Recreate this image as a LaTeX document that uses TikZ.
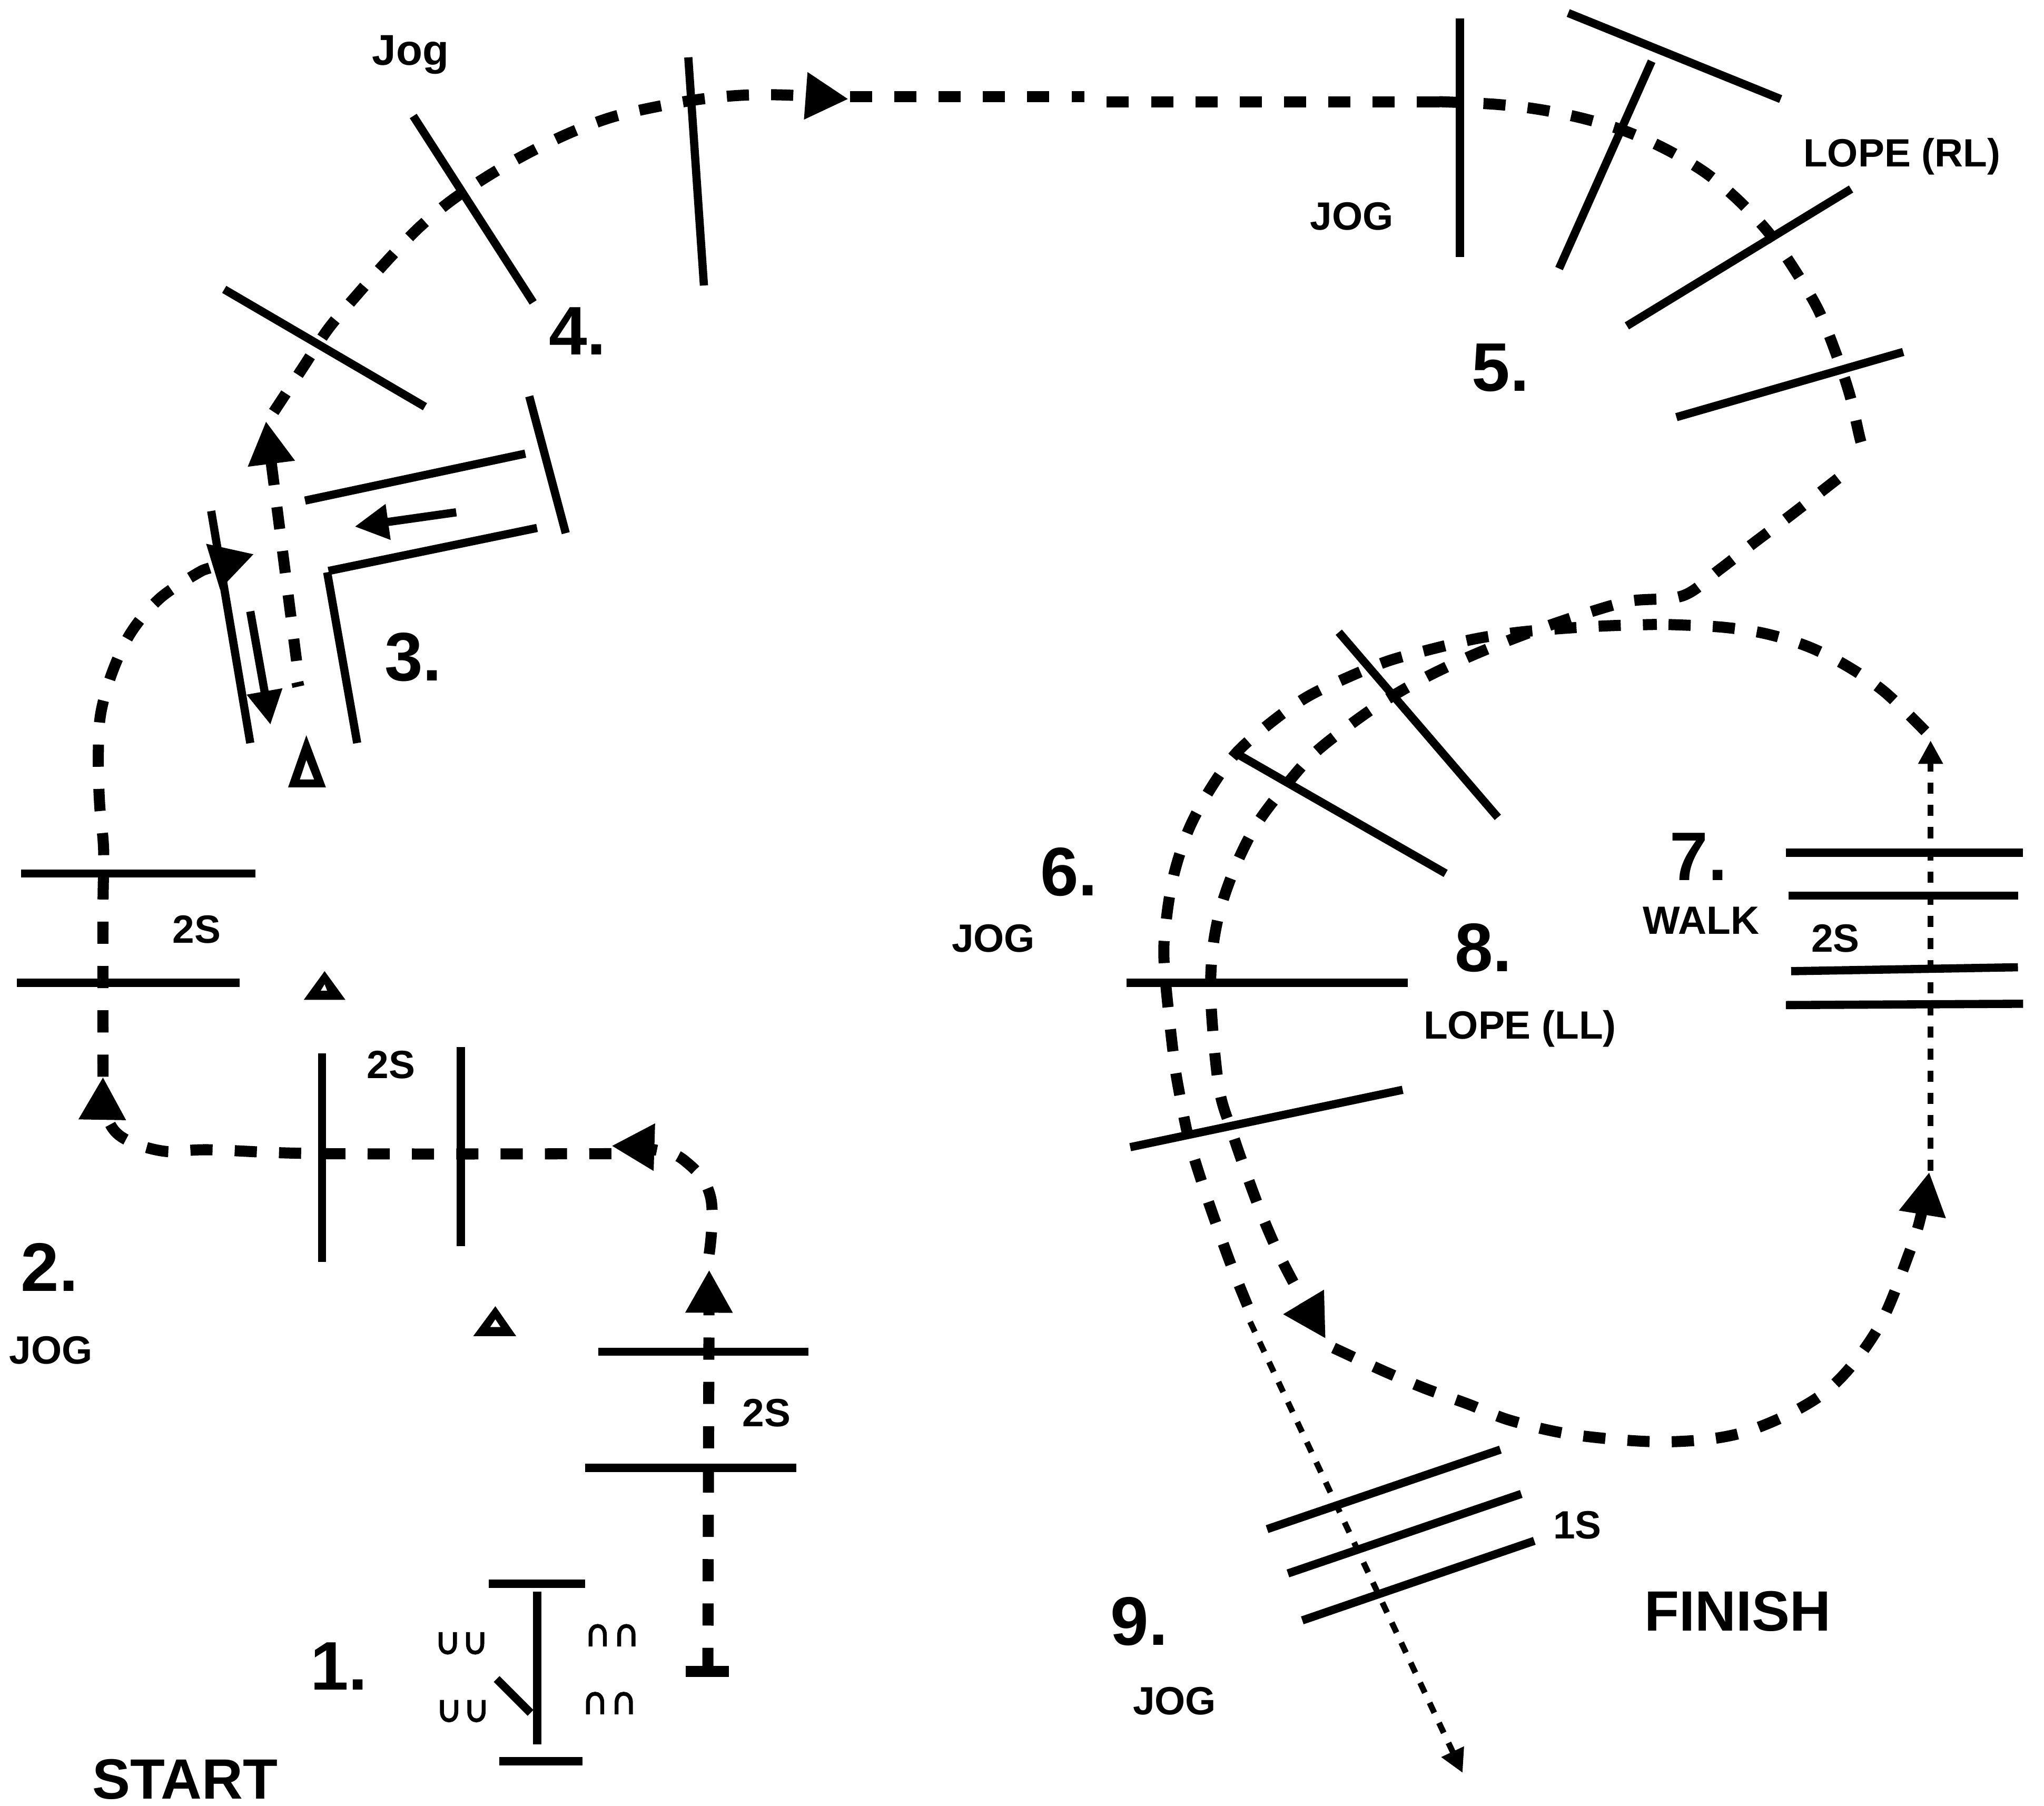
\documentclass[tikz,border=0pt]{standalone}
\usepackage{fontspec}
\setmainfont{Liberation Sans}
\usetikzlibrary{arrows.meta}

\begin{document}
\begin{tikzpicture}[
                x=0.1mm, y=-0.1mm,
                pole/.style={line width=0.63mm},
                route/.style={line width=0.85mm, dash pattern=on 1.7mm off 1.7mm},
                walkline/.style={line width=0.45mm, dash pattern=on 0.85mm off 0.85mm},
                shoe/.style={line width=0.3mm},
                cone/.style={fill=black, even odd rule},
                bigtip/.style={-{Triangle[length=3.3mm, width=3.4mm]}},
                midtip/.style={-{Triangle[length=2.6mm, width=2.6mm]}},
                smalltip/.style={-{Triangle[length=1.8mm, width=1.8mm]}},
                num/.style={inner sep=0pt, font=\fontsize{15pt}{17pt}\selectfont\bfseries},
                tag/.style={inner sep=0pt, font=\fontsize{8.6pt}{10pt}\selectfont\bfseries},
                title/.style={inner sep=0pt, font=\fontsize{12.4pt}{14pt}\selectfont\bfseries}
            ]
                \useasboundingbox (0,0) rectangle (1568,1385);

                % 1 start box
                \draw[pole] (375,1215) -- (449,1215);
                \draw[pole] (383,1351) -- (447,1351);
                \draw[pole] (412,1221) -- (412,1338);
                \draw[pole] (381,1288) -- (407,1314);
                \foreach \x/\y in {338/1252, 359/1252, 339/1304, 360/1304}
                    \draw[shoe] (\x,\y) -- ++(0,9) .. controls +(0,9) and +(0,9) .. ++(11,0) -- ++(0,-9);
                \foreach \x/\y in {453/1263, 475/1263, 451/1315, 473/1315}
                    \draw[shoe] (\x,\y) -- ++(0,-9) .. controls +(0,-9) and +(0,-9) .. ++(11,0) -- ++(0,9);
                \draw[line width=0.85mm] (526,1282) -- (559,1282);

                % poles of the pattern
                \draw[pole] (459,1037) -- (620,1037);
                \draw[pole] (449,1126) -- (611,1126);
                \draw[pole] (247,808) -- (247,968);
                \draw[pole] (353.5,803) -- (353.5,956);
                \draw[pole] (16,670) -- (196,670);
                \draw[pole] (13,754) -- (184,754);
                \draw[pole] (162,392) -- (192,570);
                \draw[pole] (251,439) -- (274,570);
                \draw[pole] (234,384) -- (403,348);
                \draw[pole] (252,438) -- (412,405);
                \draw[pole] (406,304) -- (434,409);
                \draw[pole] (172,222) -- (326,312);
                \draw[pole] (317,89) -- (409,232);
                \draw[pole] (528,44) -- (540,219);
                \draw[pole] (1120,14) -- (1120,197);
                \draw[pole] (1203,10) -- (1366,76);
                \draw[pole] (1267,47) -- (1196,206);
                \draw[pole] (1420,145) -- (1248,250);
                \draw[pole] (1460,270) -- (1286,320);
                \draw[pole] (1027,485) -- (1149,627);
                \draw[pole] (945,576) -- (1109,670);
                \draw[pole] (864,754) -- (1080,754);
                \draw[pole] (867,880) -- (1076,836);
                \draw[pole] (1370,654) -- (1552,654);
                \draw[pole] (1372,687) -- (1548,687);
                \draw[pole] (1374,745) -- (1548,742);
                \draw[pole] (1370,771) -- (1552,770);
                \draw[pole] (972,1173) -- (1151,1112);
                \draw[pole] (988,1207) -- (1167,1146);
                \draw[pole] (999,1243) -- (1177,1182);

                % cones
                \fill[cone] (235,564) -- (221,604) -- (250,604) -- cycle (235,583) -- (230,598) -- (241,598) -- cycle;
                \fill[cone] (249,745) -- (233,767) -- (265,767) -- cycle (249,755) -- (246,760) -- (251,760) -- cycle;
                \fill[cone] (380,1002) -- (363,1025) -- (396,1025) -- cycle (380,1012) -- (376,1018) -- (384,1018) -- cycle;

                % route ends
                \coordinate (gate) at (543,1281);
                \coordinate (turnA) at (544,974);
                \coordinate (turnB) at (544,962);
                \coordinate (turnC) at (469,879);
                \coordinate (turnD) at (469,885);
                \coordinate (turnE) at (79,826);
                \coordinate (turnF) at (79,826);
                \coordinate (turnG) at (195,425);
                \coordinate (backS) at (227.5,507);
                \coordinate (backE) at (204,323);
                \coordinate (arcS) at (210,316);
                \coordinate (arcE) at (651,76);
                \coordinate (topS) at (652,74);
                \coordinate (topE) at (832,74);
                \coordinate (midS) at (849,78);
                \coordinate (midE) at (1104,78);
                \coordinate (curveS) at (1104,78);
                \coordinate (curveE) at (1430,345);
                \coordinate (sweepS) at (1410,367);
                \coordinate (sweepE) at (1017,1027);
                \coordinate (walkS) at (1481,898);
                \coordinate (walkE) at (1481,568);
                \coordinate (capS) at (1477,561);
                \coordinate (capE) at (1277,479);
                \coordinate (leftS) at (1271,479);
                \coordinate (leftE) at (958,1004);
                \coordinate (outS) at (959,1014);
                \coordinate (outE) at (1122,1360);
                \coordinate (loopS) at (1023,1034);
                \coordinate (loopE) at (1480,899);

                \draw[route, bigtip] (gate) -- (turnA);
                \draw[route, bigtip] plot[smooth, tension=0.7] coordinates {(turnB) (545,918) (526,891) (502,882) (turnC)};
                \draw[route, -, bigtip] plot[smooth, tension=0.6] coordinates {(turnD) (250,885) (161,882) (125,883) (93,872) (81,853) (turnE)};
                \draw[route, bigtip] plot[smooth, tension=0.55] coordinates {(turnF) (79,700) (79.5,652) (76.5,618) (75.4,584) (77,549) (86,516) (100.6,485) (122.6,459) (151,440) (163,435) (turnG)};
                \draw[route, bigtip] (backS) -- (backE);
                \draw[line width=0.35mm] (224,526) -- (233,524);
                \draw[route, bigtip] plot[smooth, tension=0.55] coordinates {(arcS) (233,281) (252,252) (274,226) (297,200) (321,175) (346,154) (376,134) (406,117) (437,102) (469,90) (503,82) (538,76) (571,73) (605,73) (arcE)};
                \draw[route] (topS) -- (topE);
                \draw[route] (midS) -- (midE);
                \draw[route] plot[smooth, tension=0.55] coordinates {(curveS) (1147,80) (1181,84) (1215,91) (1248,101) (1279,115) (1309,133) (1335,155) (1358,180) (1378,209) (1395,238) (1408,270) (1419,303) (1427,337) (curveE)};
                \draw[route, bigtip] plot[smooth, tension=0.55] coordinates {(sweepS) (1374,395) (1346,416) (1319,437) (1291,457) (1251,461) (1218,470) (1185,481) (1153,493) (1122,506) (1091,521) (1060,539) (1033,558) (1006,580) (982,608) (963,634) (948,664) (936,698) (930,731) (929,770) (935,834) (945,868) (956,900) (968,932) (982,964) (1000,998) (sweepE)};
                \draw[route] plot[smooth, tension=0.55] coordinates {(capS) (1446,531) (1417,511) (1387,496) (1354,486) (1320,481) (capE)};
                \draw[route, dash phase=0.63mm] plot[smooth, tension=0.55] coordinates {(leftS) (1235,480) (1200,482) (1165,485) (1132,490) (1098,498) (1065,507) (1033,520) (1002,535) (974,555) (948,578) (928,606) (912,636) (901,669) (895,703) (893,738) (900,808) (905,840) (912,874) (922,907) (933,939) (945,972) (leftE)};
                \draw[route, bigtip] plot[smooth, tension=0.55] coordinates {(loopS) (1062,1052) (1093,1065) (1126,1077) (1160,1090) (1210,1101) (1280,1106) (1340,1098) (1400,1068) (1440,1020) (1465,960) (1474,931) (loopE)};
                \draw[walkline, smalltip] (walkS) -- (walkE);
                \draw[walkline, smalltip] (outS) -- (outE);

                % small lane arrows
                \coordinate (laneAS) at (350,393);
                \coordinate (laneAE) at (272,404);
                \coordinate (laneBS) at (192,469);
                \coordinate (laneBE) at (207.5,556);
                \draw[pole, midtip] (laneAS) -- (laneAE);
                \draw[pole, midtip] (laneBS) -- (laneBE);

                % texts
                \node[num] (n1) at (260,1278) {1.};
                \node[title] (start) at (142,1365) {START};
                \node[num] (n2) at (38,972) {2.};
                \node[tag] (jogB) at (39,1036) {JOG};
                \node[tag] (twoA) at (151,713) {2S};
                \node[tag] (twoB) at (300,817) {2S};
                \node[tag] (twoC) at (588,1084) {2S};
                \node[num] (n3) at (317,504) {3.};
                \node[tag, font=\fontsize{9.4pt}{11pt}\selectfont\bfseries] (jogD) at (315,42) {Jog};
                \node[num] (n4) at (443,254) {4.};
                \node[tag] (jogE) at (1037,166) {JOG};
                \node[tag] (lopeR) at (1459,120) {LOPE (RL)};
                \node[num] (n5) at (1151,282) {5.};
                \node[num] (n6) at (820,669) {6.};
                \node[tag] (jogF) at (762,720) {JOG};
                \node[num] (n7) at (1303,657) {7.};
                \node[tag] (walk) at (1305,706) {WALK};
                \node[tag] (twoD) at (1408,720) {2S};
                \node[num] (n8) at (1138,727) {8.};
                \node[tag] (lopeL) at (1166,789) {LOPE (LL)};
                \node[num] (n9) at (874,1244) {9.};
                \node[tag] (jogG) at (901,1305) {JOG};
                \node[tag] (oneS) at (1210,1170) {1S};
                \node[title] (finish) at (1333,1236) {FINISH};
            \end{tikzpicture}
\end{document}
